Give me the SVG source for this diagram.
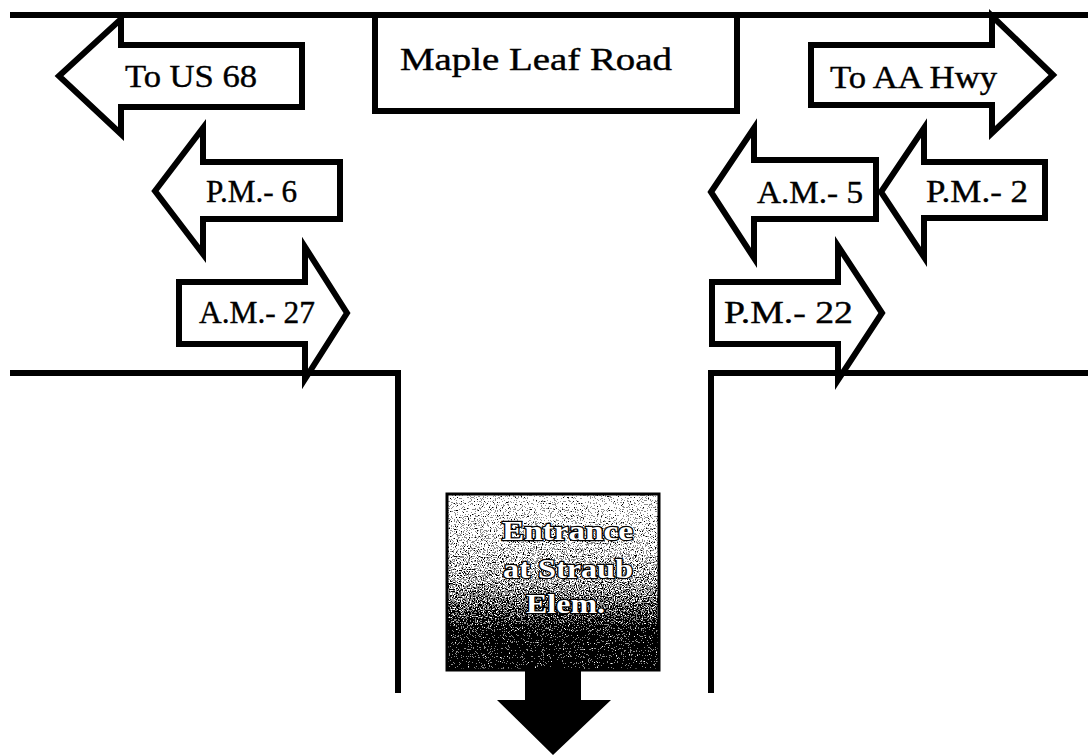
<svg xmlns="http://www.w3.org/2000/svg" width="1088" height="755" viewBox="0 0 1088 755">
<style>
.road{fill:none;stroke:#000;stroke-width:6;stroke-linecap:butt;stroke-linejoin:miter}
.arrow{fill:#fff;stroke:#000;stroke-width:6;stroke-linejoin:miter}
.lbl{font-family:"Liberation Serif","Times New Roman",serif;font-size:31px;fill:#000;stroke:#000;stroke-width:0.4}
.ent{font-family:"Liberation Serif","Times New Roman",serif;font-weight:bold;font-size:28px;fill:#fff;stroke:#000;stroke-width:2.4;paint-order:stroke}
</style>
<defs>
<linearGradient id="entGrad" x1="0" y1="0" x2="0" y2="1">
<stop offset="0" stop-color="#b4b4b4"/>
<stop offset="0.3" stop-color="#9a9a9a"/>
<stop offset="0.5" stop-color="#767676"/>
<stop offset="0.68" stop-color="#3a3a3a"/>
<stop offset="0.8" stop-color="#080808"/>
<stop offset="1" stop-color="#000"/>
</linearGradient>
<filter id="grain" x="0" y="0" width="100%" height="100%" color-interpolation-filters="sRGB">
<feTurbulence type="fractalNoise" baseFrequency="0.85" numOctaves="2" seed="4" result="n"/>
<feColorMatrix in="n" type="matrix" values="0.33 0.33 0.33 0 0 0.33 0.33 0.33 0 0 0.33 0.33 0.33 0 0 0 0 0 0 1" result="g"/>
<feComposite in="SourceGraphic" in2="g" operator="arithmetic" k1="0" k2="1" k3="3" k4="-1.5" result="s"/>
<feComponentTransfer in="s">
<feFuncR type="discrete" tableValues="0 0.55 1 1"/>
<feFuncG type="discrete" tableValues="0 0.55 1 1"/>
<feFuncB type="discrete" tableValues="0 0.55 1 1"/>
<feFuncA type="linear" slope="0" intercept="1"/>
</feComponentTransfer>
</filter>
</defs>

<g id="roads">
<path class="road" d="M10,15 H1088"/>
<path class="road" d="M10,373 H398 V693"/>
<path class="road" d="M1088,373 H711 V693"/>
</g>

<g id="maple-leaf-road">
<rect x="375" y="15" width="362" height="96" fill="#fff" stroke="#000" stroke-width="6"/>
<text class="lbl" x="400" y="70" font-size="33" textLength="272" lengthAdjust="spacingAndGlyphs">Maple Leaf Road</text>
</g>

<g id="connectors">
<g id="to-us-68">
<path class="arrow" d="M59,76 L121,19 V45 H302 V107 H121 V134 Z"/>
<text class="lbl" x="125" y="87" textLength="132" lengthAdjust="spacingAndGlyphs">To US 68</text>
</g>
<g id="to-aa-hwy">
<path class="arrow" d="M1053,75 L992,16 V45 H811 V105 H992 V133 Z"/>
<text class="lbl" x="830" y="88" textLength="167" lengthAdjust="spacingAndGlyphs">To AA Hwy</text>
</g>
<g id="pm-6">
<path class="arrow" d="M155,191 L203,128 V162 H340 V219 H203 V254 Z"/>
<text class="lbl" x="206" y="202" textLength="91" lengthAdjust="spacingAndGlyphs">P.M.- 6</text>
</g>
<g id="am-27">
<path class="arrow" d="M347,313 L305,247 V282 H179 V344 H305 V379 Z"/>
<text class="lbl" x="199" y="323" textLength="116" lengthAdjust="spacingAndGlyphs">A.M.- 27</text>
</g>
<g id="am-5">
<path class="arrow" d="M711,192 L754,128 V160 H876 V219 H754 V258 Z"/>
<text class="lbl" x="757" y="203" textLength="106" lengthAdjust="spacingAndGlyphs">A.M.- 5</text>
</g>
<g id="pm-2">
<path class="arrow" d="M881,192 L924,128 V162 H1045 V218 H924 V257 Z"/>
<text class="lbl" x="926" y="202" textLength="102" lengthAdjust="spacingAndGlyphs">P.M.- 2</text>
</g>
<g id="pm-22">
<path class="arrow" d="M882,313 L838,246 V282 H712 V344 H838 V380 Z"/>
<text class="lbl" x="724" y="323" textLength="129" lengthAdjust="spacingAndGlyphs">P.M.- 22</text>
</g>
</g>

<g id="entrance">
<rect x="447" y="494" width="212" height="176" fill="url(#entGrad)" filter="url(#grain)"/>
<rect x="447" y="494" width="212" height="176" fill="none" stroke="#000" stroke-width="3"/>
<text class="ent" x="502" y="540" textLength="131" lengthAdjust="spacingAndGlyphs">Entrance</text>
<text class="ent" x="503" y="578" textLength="130" lengthAdjust="spacingAndGlyphs">at Straub</text>
<text class="ent" x="526" y="613" textLength="79" lengthAdjust="spacingAndGlyphs">Elem.</text>
<path d="M525,668 H581 V700 H611 L553,755 L497,700 H525 Z" fill="#000"/>
</g>
</svg>
